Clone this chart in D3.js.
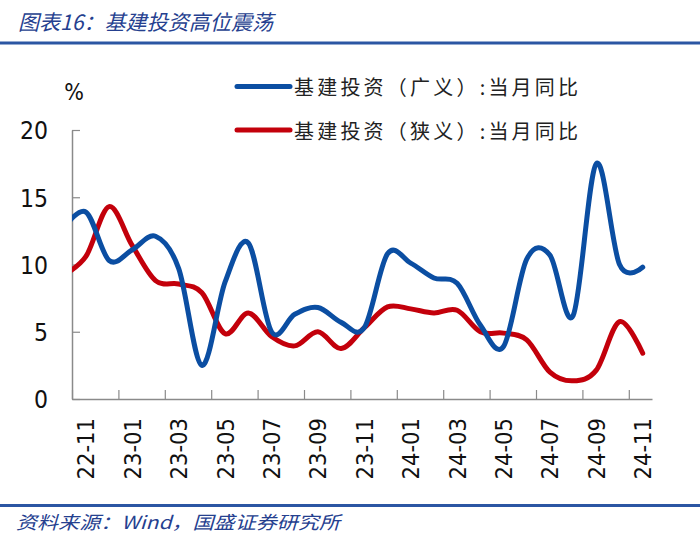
<!DOCTYPE html>
<html>
<head>
<meta charset="utf-8">
<script src="https://cdn.jsdelivr.net/npm/d3@7"></script>
<style>
  html, body { margin: 0; padding: 0; background: #fff; }
  svg { display: block; }
</style>
</head>
<body>
<svg id="chart" width="700" height="541"></svg>
<script>
// ---- data ----
const months = ["22-10","22-11","22-12","23-01","23-02","23-03","23-04","23-05","23-06","23-07","23-08","23-09","23-10",
                "23-11","23-12","24-01","24-02","24-03","24-04","24-05","24-06","24-07","24-08","24-09","24-10","24-11"];
const broadYoY  = [12.6,13.9,10.3,11.1,12.1,9.7,2.5,8.7,11.6,5.0,6.3,6.8,5.7,5.3,10.8,10.1,9.0,8.6,5.5,3.9,10.4,10.7,6.2,17.5,10.0,9.8];
const narrowYoY = [9.2,10.6,14.3,11.4,8.8,8.55,7.9,4.85,6.4,4.65,3.95,5.0,3.75,5.3,6.85,6.7,6.4,6.6,5.0,4.9,4.4,2.0,1.35,2.15,5.75,3.4];
const tickLabels = ["22-11","23-01","23-03","23-05","23-07","23-09","23-11","24-01","24-03","24-05","24-07","24-09","24-11"];
const yTicks = [0, 5, 10, 15, 20];
const seriesNames = ["基建投资（广义）:当月同比", "基建投资（狭义）:当月同比"];
const titleText = "图表16：基建投资高位震荡";
const sourceText = "资料来源：Wind，国盛证券研究所";

// ---- layout ----
const svg = d3.select("#chart");
const plot = { left: 72, right: 652, top: 130, bottom: 399 };
const navy = "#25408f";
const blue = "#0b4ea2";
const red = "#c3000b";
const axisGray = "#8a8a8a";
const numFont = "'DejaVu Sans Condensed', 'DejaVu Sans', sans-serif";
const cjk = "'Noto Sans CJK SC', sans-serif";

const x = d3.scaleLinear().domain([0.4, 25.4]).range([plot.left, plot.right]);
const y = d3.scaleLinear().domain([0, 20]).range([plot.bottom, plot.top]);

// title + rule
svg.append("text").attr("x", 18).attr("y", 21)
  .attr("dominant-baseline", "central")
  .attr("font-family", cjk).attr("font-style", "italic").attr("font-size", 21)
  .attr("fill", navy).attr("textLength", 255).attr("lengthAdjust", "spacingAndGlyphs")
  .text(titleText);
svg.append("rect").attr("x", 0).attr("y", 41.5).attr("width", 700).attr("height", 3).attr("fill", "#2b56a3");

// footer rule + source
svg.append("rect").attr("x", 0).attr("y", 504).attr("width", 700).attr("height", 3).attr("fill", "#2b56a3");
svg.append("text").attr("x", 16).attr("y", 521)
  .attr("dominant-baseline", "central")
  .attr("font-family", cjk).attr("font-style", "italic").attr("font-size", 18)
  .attr("fill", navy).attr("textLength", 324).attr("lengthAdjust", "spacingAndGlyphs")
  .text(sourceText);

// y axis
const yAxis = svg.append("g").attr("transform", `translate(${plot.left},0)`)
  .call(d3.axisLeft(y).tickValues(yTicks).tickSize(-8).tickSizeOuter(0).tickPadding(24));
yAxis.select(".domain").attr("stroke", axisGray).attr("stroke-width", 1.5);
yAxis.selectAll(".tick line").attr("stroke", axisGray).attr("stroke-width", 1.2);
yAxis.selectAll(".tick text").attr("font-family", numFont).attr("font-size", 24.5).attr("fill", "#111")
  .attr("dy", "0.36em");

// x axis (tick marks between the labelled months)
const tickPos = tickLabels.map((_, k) => 0.4 + 2 * k);
const xAxis = svg.append("g").attr("transform", `translate(0,${plot.bottom})`)
  .call(d3.axisBottom(x).tickValues(tickPos).tickSize(-9).tickSizeOuter(0).tickFormat(""));
xAxis.select(".domain").attr("stroke", axisGray).attr("stroke-width", 1.5);
xAxis.selectAll(".tick line").attr("stroke", axisGray).attr("stroke-width", 1.2);

// x labels, rotated
svg.append("g").selectAll("text").data(tickLabels).join("text")
  .attr("transform", d => `translate(${x(months.indexOf(d))},418) rotate(-90)`)
  .attr("text-anchor", "end").attr("dy", "0.36em")
  .attr("font-family", numFont).attr("font-size", 23.5).attr("fill", "#111")
  .text(d => d);

// unit
svg.append("text").attr("x", 74).attr("y", 92).attr("text-anchor", "middle")
  .attr("dominant-baseline", "central")
  .attr("font-family", numFont).attr("font-size", 23).attr("fill", "#111").text("%");

// lines
svg.append("clipPath").attr("id", "clip").append("rect")
  .attr("x", plot.left).attr("y", 0).attr("width", plot.right - plot.left).attr("height", 541);
const line = d3.line().x((d, i) => x(i)).y(d => y(d)).curve(d3.curveCardinal.tension(0));
const g = svg.append("g").attr("clip-path", "url(#clip)");
g.append("path").datum(narrowYoY).attr("d", line).attr("fill", "none")
  .attr("stroke", red).attr("stroke-width", 5).attr("stroke-linejoin", "round").attr("stroke-linecap", "round");
g.append("path").datum(broadYoY).attr("d", line).attr("fill", "none")
  .attr("stroke", blue).attr("stroke-width", 5).attr("stroke-linejoin", "round").attr("stroke-linecap", "round");

// legend
const legend = svg.append("g");
[[blue, 86.5], [red, 130]].forEach(([c, ly], i) => {
  legend.append("line").attr("x1", 237).attr("x2", 290).attr("y1", ly).attr("y2", ly)
    .attr("stroke", c).attr("stroke-width", 5).attr("stroke-linecap", "round");
  legend.append("text").attr("x", 294).attr("y", ly).attr("dominant-baseline", "central")
    .attr("font-family", cjk).attr("font-size", 20).attr("fill", "#222")
    .attr("textLength", 284).attr("lengthAdjust", "spacing")
    .text(seriesNames[i]);
});
</script>
</body>
</html>
